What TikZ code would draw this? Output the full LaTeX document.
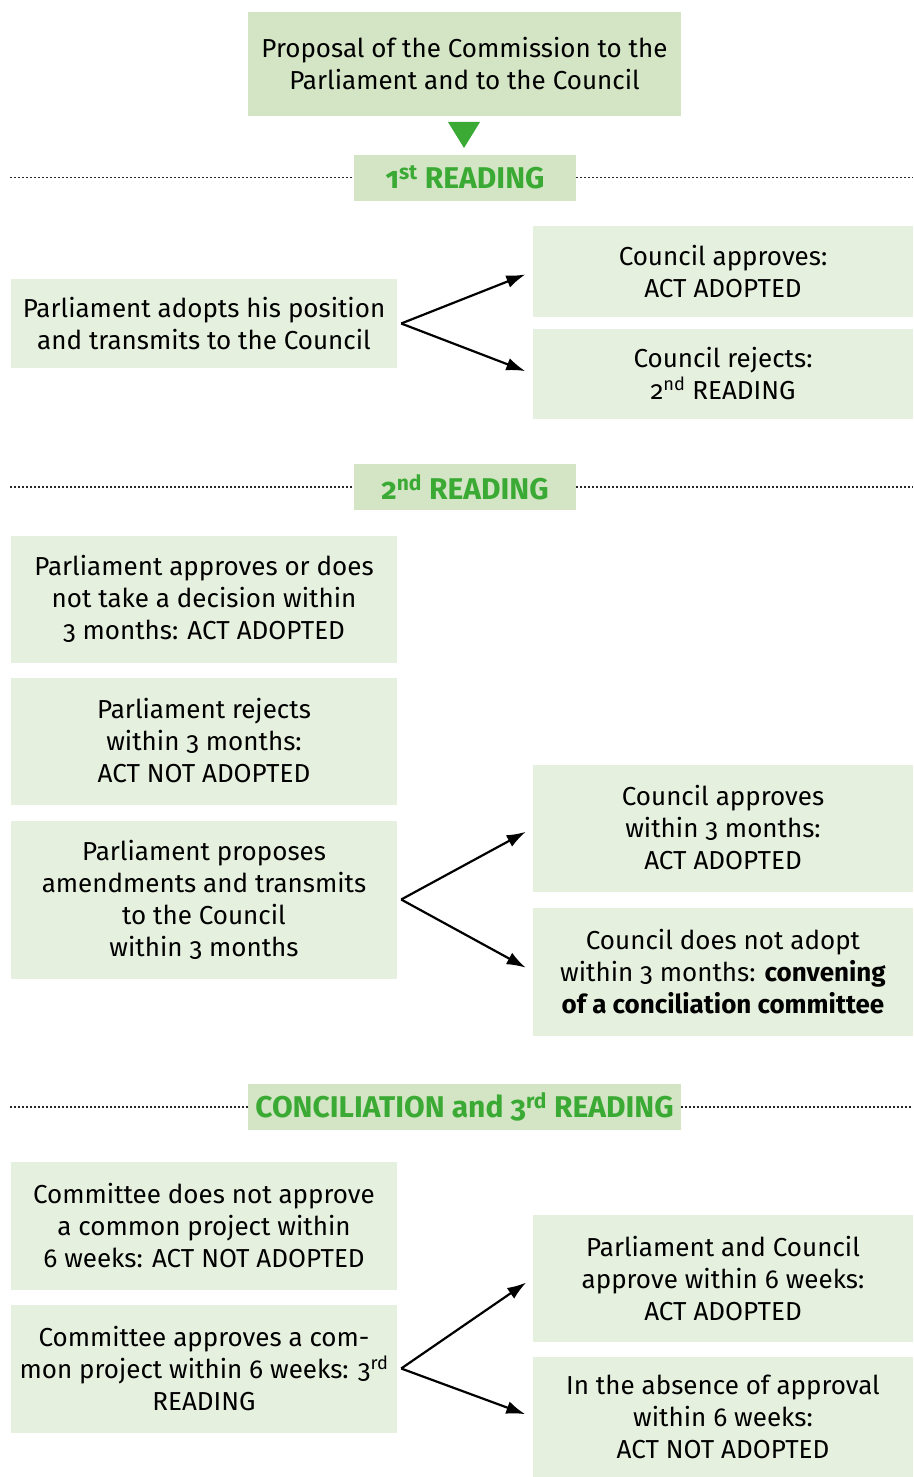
\documentclass[tikz,border=0pt]{standalone}
\usepackage{fontspec}
\setmainfont{Fira Sans}[Numbers=OldStyle]
\newfontfamily\headfont{Fira Sans}[Numbers=OldStyle]
\usetikzlibrary{arrows.meta}
\definecolor{darkgreen}{RGB}{211,229,196}
\definecolor{lightgreen}{RGB}{230,240,223}
\definecolor{titlegreen}{RGB}{58,170,53}
\definecolor{dotgrey}{RGB}{40,40,40}
\tikzstyle{proposal} = [rectangle,
minimum width=433pt,
minimum height=104pt,
text centered,
fill=darkgreen,
inner sep=0pt,
font=\fontsize{26}{32}\selectfont]
\tikzstyle{reading} = [rectangle,
minimum width=222pt,
minimum height=46pt,
text centered,
fill=darkgreen,
inner sep=0pt,
text=titlegreen,
font=\headfont\bfseries\fontsize{30}{32}\selectfont]
\tikzstyle{leftbox} = [rectangle,
minimum width=386pt,
minimum height=127pt,
text centered,
align=center,
fill=lightgreen,
inner sep=0pt,
font=\fontsize{26}{32}\selectfont]
\tikzstyle{rightbox} = [leftbox, minimum width=380pt]
\tikzstyle{dots} = [line width=1.7pt, dash pattern=on 1.6pt off 2.4pt, dotgrey]
\tikzstyle{arrow} = [line width=2.2pt, -{Latex[length=19pt, width=13pt]}, shorten >=8pt]

\begin{document}
\begin{tikzpicture}[x=1pt, y=-1pt]
    \useasboundingbox (0,0) rectangle (913,1477);

    % top of the procedure
    \node (prop) [proposal, align=center] at (464.5,64) {Proposal of the Commission to the\\Parliament and to the Council};
    \fill [titlegreen] (448,122) -- (480,122) -- (464,148) -- cycle;

    % 1st reading
    \node (read1) [reading] at (465,177.5) {1\textsuperscript{st} READING};
    \coordinate (d1l) at (10,177.5);
    \coordinate (d1r) at (913,177.5);
    \draw [dots] (d1l) -- (read1.west);
    \draw [dots] (read1.east) -- (d1r);

    \node (parl1) [leftbox, minimum height=89pt] at (204,323.5) {Parliament adopts his position\\and transmits to the Council};
    \node (coun1a) [rightbox, minimum height=91pt] at (723,271.5) {Council approves:\\ACT ADOPTED};
    \node (coun1b) [rightbox, minimum height=90pt] at (723,374) {Council rejects:\\2\textsuperscript{nd} READING};
    \coordinate (split1) at ([xshift=4pt]parl1.east);
    \draw [arrow] (split1) -- (coun1a.west);
    \draw [arrow] (split1) -- (coun1b.west);

    % 2nd reading
    \node (read2) [reading] at (465,487) {2\textsuperscript{nd} READING};
    \coordinate (d2l) at (10,487);
    \coordinate (d2r) at (913,487);
    \draw [dots] (d2l) -- (read2.west);
    \draw [dots] (read2.east) -- (d2r);

    \node (parl2a) [leftbox] at (204,599) {Parliament approves or does\\not take a decision within\\3 months: ACT ADOPTED};
    \node (parl2b) [leftbox] at (204,741) {Parliament rejects\\within 3 months:\\ACT NOT ADOPTED};
    \node (parl2c) [leftbox, minimum height=158pt] at (204,899.5) {Parliament proposes\\amendments and transmits\\to the Council\\within 3 months};
    \node (coun2a) [rightbox] at (723,828) {Council approves\\within 3 months:\\ACT ADOPTED};
    \node (coun2b) [rightbox, minimum height=128pt] at (723,971.5) {Council does not adopt\\within 3 months: \textbf{convening}\\\textbf{of a conciliation committee}};
    \coordinate (split2) at ([xshift=4pt]parl2c.east);
    \draw [arrow] (split2) -- (coun2a.west);
    \draw [arrow] (split2) -- (coun2b.west);

    % conciliation and 3rd reading
    \node (read3) [reading, minimum width=433pt] at (464.5,1107) {CONCILIATION and 3\textsuperscript{rd} READING};
    \coordinate (d3l) at (10,1107);
    \coordinate (d3r) at (913,1107);
    \draw [dots] (d3l) -- (read3.west);
    \draw [dots] (read3.east) -- (d3r);

    \node (comm3a) [leftbox, minimum height=128pt] at (204,1225.5) {Committee does not approve\\a common project within\\6 weeks: ACT NOT ADOPTED};
    \node (comm3b) [leftbox, minimum height=128pt] at (204,1368.5) {Committee approves a com-\\mon project within 6 weeks: 3\textsuperscript{rd}\\READING};
    \node (both3a) [rightbox] at (723,1278) {Parliament and Council\\approve within 6 weeks:\\ACT ADOPTED};
    \node (both3b) [rightbox, minimum height=121pt] at (723,1417) {In the absence of approval\\within 6 weeks:\\ACT NOT ADOPTED};
    \coordinate (split3) at ([xshift=4pt]comm3b.east);
    \draw [arrow] (split3) -- (both3a.west);
    \draw [arrow] (split3) -- (both3b.west);

\end{tikzpicture}
\end{document}
